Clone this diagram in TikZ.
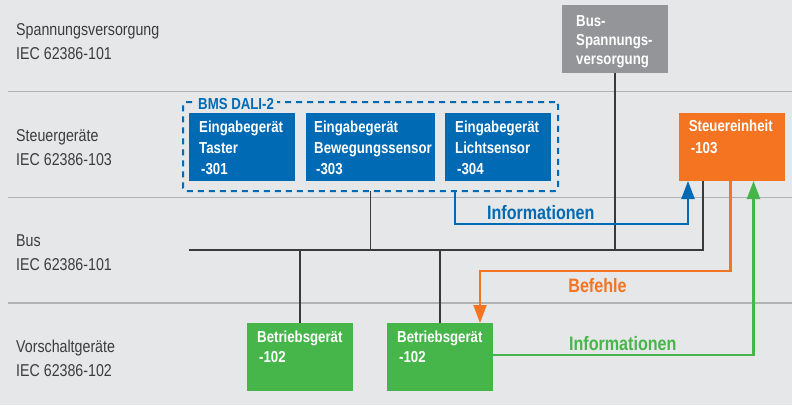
\documentclass[tikz,border=0pt]{standalone}
\usepackage{fontspec}
\setmainfont{Liberation Sans}[FakeStretch=0.83]
\usetikzlibrary{arrows.meta}
\definecolor{bgc}{HTML}{E6E7E9}
\definecolor{sepc}{HTML}{B1B2B4}
\definecolor{linec}{HTML}{3A3A3C}
\definecolor{labc}{HTML}{3C3C3E}
\definecolor{bluec}{HTML}{006AB4}
\definecolor{orangec}{HTML}{F47421}
\definecolor{greenc}{HTML}{46B64A}
\definecolor{greyc}{HTML}{949598}
\tikzset{
  lab/.style={anchor=base west, inner sep=0, align=left, text=labc, font=\fontsize{17.2}{24.3}\selectfont},
  devbox/.style={anchor=north west, inner sep=0, outer sep=0, minimum width=106bp, minimum height=68bp},
  btext/.style={anchor=base west, inner sep=0, align=left, text=white, font=\bfseries\fontsize{16}{21.3}\selectfont},
  sepline/.style={draw=sepc, line width=1.3bp},
  conn/.style={draw=linec, line width=1.4bp},
  busline/.style={draw=linec, line width=2bp},
  flow/.style={line width=2.2bp, -{Triangle[length=18bp,width=13bp]}},
  flowlab/.style={anchor=base, inner sep=0, font=\bfseries\fontsize{19.5}{22}\selectfont}
}
\begin{document}
\begin{tikzpicture}[x=1bp,y=-1bp]
\fill[bgc] (0,0) rectangle (792,405);
\useasboundingbox (0,0) rectangle (792,405);

% separators
\draw[sepline] (8,91.5) -- (792,91.5);
\draw[sepline] (8,197.5) -- (792,197.5);
\draw[sepline] (8,303) -- (792,303);

% left labels (anchor = baseline of last line)
\node[lab] (lsv) at (16,59.9) {Spannungsversorgung\\IEC 62386-101};
\node[lab] (lst) at (16,165.9) {Steuerger\"ate\\IEC 62386-103};
\node[lab] (lbus) at (16,270.9) {Bus\\IEC 62386-101};
\node[lab] (lvg) at (16,376.6) {Vorschaltger\"ate\\IEC 62386-102};

% grey box
\node[devbox, fill=greyc] (gb) at (562,5) {};
\node[btext, font=\bfseries\fontsize{16}{19}\selectfont] (gbt) at ([shift={(14,59.7)}]gb.north west) {Bus-\\Spannungs-\\versorgung};

% dashed group
\node[anchor=north west, inner sep=0, outer sep=0, minimum width=375bp, minimum height=89bp,
      draw=bluec, line width=2bp, dash pattern=on 6bp off 5bp, rounded corners=3bp] (dali) at (183,102) {};
\node[anchor=base west, inner xsep=3bp, inner ysep=1bp, fill=bgc, text=bluec,
      font=\bfseries\fontsize{16}{19}\selectfont] (dalit) at (195,109) {BMS DALI-2};

% blue boxes
\node[devbox, fill=bluec] (b1) at (189,113) {};
\node[devbox, fill=bluec, minimum width=129bp] (b2) at (306,113) {};
\node[devbox, fill=bluec] (b3) at (445,113) {};
\node[btext] (b1t) at ([shift={(10,61.9)}]b1.north west) {Eingabeger\"at\\Taster\\\hspace{2bp}-301};
\node[btext] (b2t) at ([shift={(8,61.9)}]b2.north west) {Eingabeger\"at\\Bewegungssensor\\\hspace{2bp}-303};
\node[btext] (b3t) at ([shift={(10,61.9)}]b3.north west) {Eingabeger\"at\\Lichtsensor\\\hspace{2bp}-304};

% Steuereinheit
\node[devbox, fill=orangec] (se) at (679,113) {};
\node[btext] (set) at ([shift={(9.7,40)}]se.north west) {Steuereinheit\\\hspace{2bp}-103};

% green boxes
\node[devbox, fill=greenc] (g1) at (247,323) {};
\node[devbox, fill=greenc] (g2) at (387,323) {};
\node[btext, font=\bfseries\fontsize{16}{20}\selectfont] (g1t) at ([shift={(10,39.4)}]g1.north west) {Betriebsger\"at\\\hspace{2bp}-102};
\node[btext, font=\bfseries\fontsize{16}{20}\selectfont] (g2t) at ([shift={(10,39.4)}]g2.north west) {Betriebsger\"at\\\hspace{2bp}-102};

% bus wiring
\coordinate (busL) at (189,250);
\coordinate (busR) at (703,250);
\draw[conn] (gb.south) -- (gb.south |- busL);
\draw[conn] (dali.south) -- (dali.south |- busL);
\draw[conn] (g1.north) -- (g1.north |- busL);
\draw[conn] (g2.north) -- (g2.north |- busL);
\draw[busline] (busL) -- (busR) -- (se.south -| busR);

% blue information flow
\coordinate (bcol) at (455,224.3);
\coordinate (bin) at (688,224.3);
\draw[flow, bluec] (dali.south -| bcol) -- (bcol) -- (bin) -- (se.south -| bin);
\node[flowlab, text=bluec] (bl) at (540.8,219) {Informationen};

% orange command flow
\coordinate (o1) at (730.5,270.7);
\coordinate (o2) at (480,270.7);
\draw[flow, orangec] (se.south -| o1) -- (o1) -- (o2) -- (g2.north -| o2);
\node[flowlab, text=orangec] (ol) at (597.5,292.7) {Befehle};

% green information flow
\coordinate (gr1) at (753.5,355);
\draw[flow, greenc] (g2.east |- gr1) -- (gr1) -- (se.south -| gr1);
\node[flowlab, text=greenc] (gl) at (622.8,350.5) {Informationen};
\end{tikzpicture}
\end{document}
